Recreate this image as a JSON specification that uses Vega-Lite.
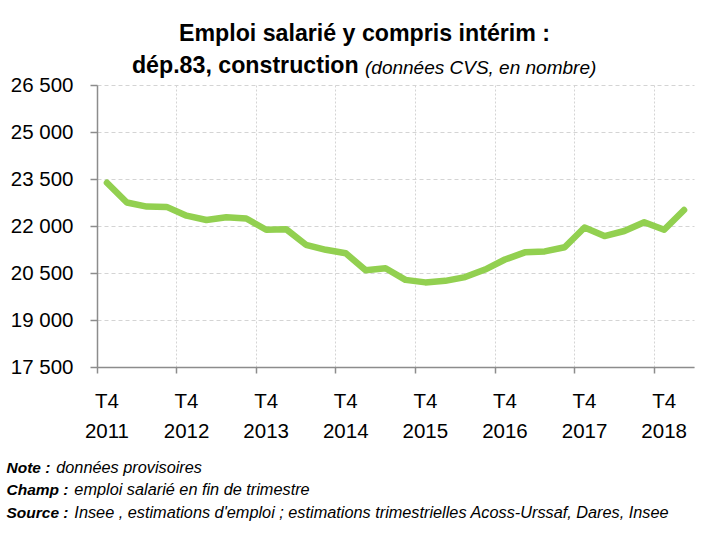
{
  "$schema": "https://vega.github.io/schema/vega-lite/v6.json",
  "width": 597,
  "height": 282,
  "autosize": {"type": "none"},
  "padding": {"left": 97, "top": 85, "right": 20, "bottom": 193},
  "background": "white",
  "config": {
    "view": {"stroke": null},
    "font": "Liberation Sans",
    "axis": {
      "labelFont": "Liberation Sans",
      "labelFontSize": 20.5,
      "labelColor": "#000000",
      "domainColor": "#8C8C8C",
      "domainWidth": 1.5,
      "tickColor": "#8C8C8C",
      "tickWidth": 1.5,
      "gridColor": "#D4D4D4",
      "gridWidth": 1
    }
  },
  "title": {
    "text": ["Emploi salarié y compris intérim :", "dép.83, construction\u00a0\u00a0\u00a0\u00a0\u00a0\u00a0\u00a0\u00a0\u00a0\u00a0\u00a0\u00a0\u00a0\u00a0\u00a0\u00a0\u00a0\u00a0\u00a0\u00a0\u00a0\u00a0\u00a0\u00a0\u00a0\u00a0\u00a0\u00a0\u00a0\u00a0\u00a0\u00a0\u00a0\u00a0\u00a0\u00a0\u00a0\u200b"],
    "subtitle": "\u200b\u00a0\u00a0\u00a0\u00a0\u00a0\u00a0\u00a0\u00a0\u00a0\u00a0\u00a0\u00a0\u00a0\u00a0\u00a0\u00a0\u00a0\u00a0\u00a0\u00a0\u00a0\u00a0\u00a0\u00a0\u00a0\u00a0\u00a0\u00a0\u00a0\u00a0\u00a0\u00a0\u00a0\u00a0\u00a0\u00a0\u00a0\u00a0\u00a0\u00a0\u00a0\u00a0\u00a0\u00a0(données CVS, en nombre)",
    "anchor": "middle",
    "frame": "group",
    "dx": -31,
    "dy": 8,
    "font": "Liberation Sans",
    "fontSize": 23.2,
    "fontWeight": "bold",
    "color": "#000000",
    "lineHeight": 32,
    "subtitleFont": "Liberation Sans",
    "subtitleFontSize": 19,
    "subtitleFontStyle": "italic",
    "subtitleFontWeight": "normal",
    "subtitleColor": "#000000",
    "subtitlePadding": -19
  },
  "data": {
    "values": [
      {"trimestre": "T4 2011", "emploi": 23380},
      {"trimestre": "T1 2012", "emploi": 22750},
      {"trimestre": "T2 2012", "emploi": 22620},
      {"trimestre": "T3 2012", "emploi": 22610},
      {"trimestre": "T4 2012", "emploi": 22330},
      {"trimestre": "T1 2013", "emploi": 22190},
      {"trimestre": "T2 2013", "emploi": 22280},
      {"trimestre": "T3 2013", "emploi": 22240},
      {"trimestre": "T4 2013", "emploi": 21880},
      {"trimestre": "T1 2014", "emploi": 21900},
      {"trimestre": "T2 2014", "emploi": 21400},
      {"trimestre": "T3 2014", "emploi": 21240},
      {"trimestre": "T4 2014", "emploi": 21130},
      {"trimestre": "T1 2015", "emploi": 20590},
      {"trimestre": "T2 2015", "emploi": 20650},
      {"trimestre": "T3 2015", "emploi": 20280},
      {"trimestre": "T4 2015", "emploi": 20200},
      {"trimestre": "T1 2016", "emploi": 20250},
      {"trimestre": "T2 2016", "emploi": 20370},
      {"trimestre": "T3 2016", "emploi": 20610},
      {"trimestre": "T4 2016", "emploi": 20930},
      {"trimestre": "T1 2017", "emploi": 21160},
      {"trimestre": "T2 2017", "emploi": 21190},
      {"trimestre": "T3 2017", "emploi": 21320},
      {"trimestre": "T4 2017", "emploi": 21950},
      {"trimestre": "T1 2018", "emploi": 21680},
      {"trimestre": "T2 2018", "emploi": 21840},
      {"trimestre": "T3 2018", "emploi": 22120},
      {"trimestre": "T4 2018", "emploi": 21880},
      {"trimestre": "T1 2019", "emploi": 22510}
    ]
  },
  "mark": {"type": "line", "color": "#92D050", "strokeWidth": 6.5, "strokeCap": "round", "strokeJoin": "round"},
  "encoding": {
    "x": {
      "field": "trimestre",
      "type": "ordinal",
      "sort": null,
      "scale": {"type": "band", "paddingInner": 0, "paddingOuter": 0},
      "axis": {
        "values": ["T4 2011", "T4 2012", "T4 2013", "T4 2014", "T4 2015", "T4 2016", "T4 2017", "T4 2018"],
        "bandPosition": 0,
        "labelExpr": "split(datum.label, ' ')",
        "labelAngle": 0,
        "labelAlign": "center",
        "labelDx": 10,
        "labelPadding": 18,
        "labelLineHeight": 30,
        "tickSize": 6,
        "grid": true,
        "gridDash": [2, 2],
        "title": ["\u200b\u00a0\u00a0\u00a0\u00a0\u00a0\u00a0\u00a0\u00a0\u00a0\u00a0\u00a0données provisoires", "\u200b\u00a0\u00a0\u00a0\u00a0\u00a0\u00a0\u00a0\u00a0\u00a0\u00a0\u00a0\u00a0\u00a0\u00a0\u00a0emploi salarié en fin de trimestre", "\u200b\u00a0\u00a0\u00a0\u00a0\u00a0\u00a0\u00a0\u00a0\u00a0\u00a0\u00a0\u00a0\u00a0\u00a0\u00a0Insee , estimations d'emploi ; estimations trimestrielles Acoss-Urssaf, Dares, Insee"],
        "titleFont": "Liberation Sans",
        "titleFontSize": 16.3,
        "titleFontStyle": "italic",
        "titleFontWeight": "normal",
        "titleColor": "#000000",
        "titleAlign": "left",
        "titleBaseline": "alphabetic",
        "titleAngle": 0,
        "titleX": -91,
        "titleY": 105,
        "titleLineHeight": 22.5
      }
    },
    "y": {
      "field": "emploi",
      "type": "quantitative",
      "scale": {"domain": [17500, 26500], "nice": false, "zero": false},
      "axis": {
        "values": [17500, 19000, 20500, 22000, 23500, 25000, 26500],
        "labelExpr": "replace(format(datum.value, ','), ',', ' ')",
        "labelPadding": 17,
        "tickSize": 7,
        "grid": true,
        "gridDash": [4, 3],
        "title": ["Note :", "Champ :", "Source :"],
        "titleFont": "Liberation Sans",
        "titleFontSize": 15.5,
        "titleFontStyle": "italic",
        "titleFontWeight": "bold",
        "titleColor": "#000000",
        "titleAlign": "left",
        "titleBaseline": "alphabetic",
        "titleAngle": 0,
        "titleX": -91,
        "titleY": 387,
        "titleLineHeight": 22.5
      }
    }
  }
}
